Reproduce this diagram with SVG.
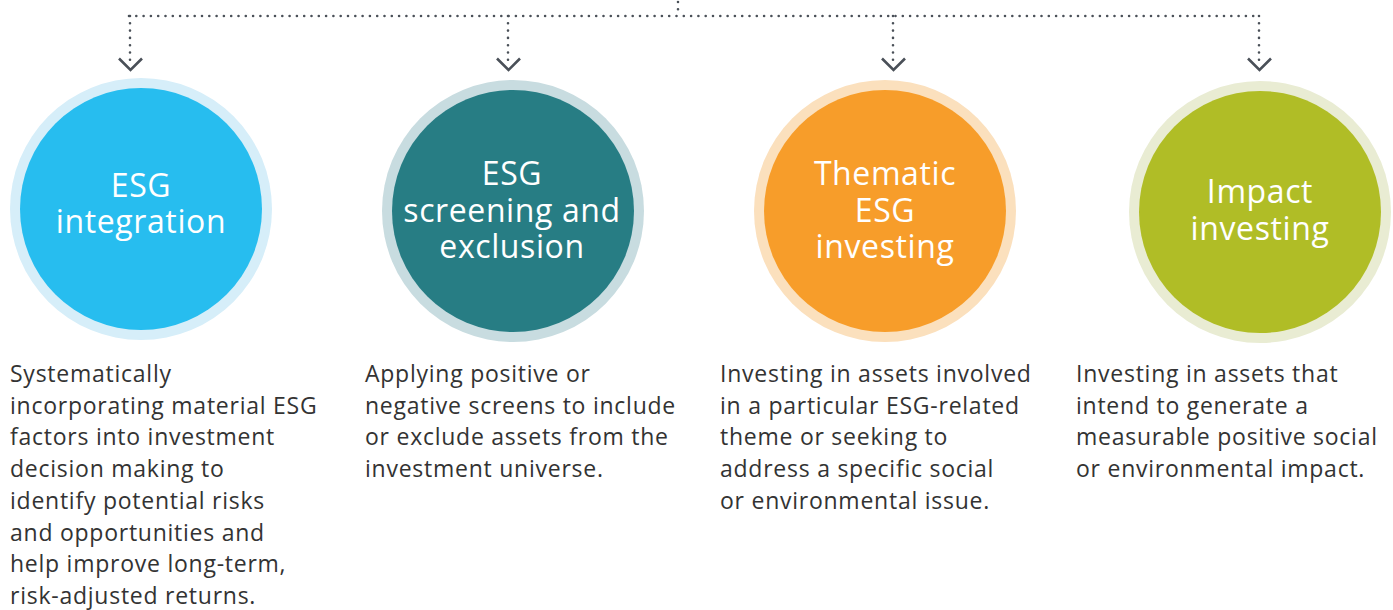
<svg xmlns="http://www.w3.org/2000/svg" width="1393" height="610" viewBox="0 0 1393 610">
<style>
.dot{fill:none;stroke:#4a5058;stroke-width:2.6;stroke-linecap:round;stroke-dasharray:0 7.3}
.chev{fill:none;stroke:#4a5058;stroke-width:2.6;stroke-linecap:butt;stroke-linejoin:miter}
.title{font-family:"Open Sans","Noto Sans",sans-serif;font-size:32px;letter-spacing:0.6px;fill:#ffffff;text-anchor:middle}
.desc{font-family:"Open Sans","Noto Sans",sans-serif;font-size:23px;letter-spacing:0.75px;fill:#333333}
</style>
<rect width="1393" height="610" fill="#ffffff"/>
<g id="connectors">
<path class="dot" d="M678 2 V16"/>
<path class="dot" d="M129 16 H1259"/>
<path class="dot" d="M130 16 V64"/>
<path class="dot" d="M508 16 V64"/>
<path class="dot" d="M893 16 V64"/>
<path class="dot" d="M1259 16 V64"/>
<path class="chev" d="M119 58.5 L130.5 70 L142 58.5"/>
<path class="chev" d="M497 58.5 L508.5 70 L520 58.5"/>
<path class="chev" d="M882 58.5 L893.5 70 L905 58.5"/>
<path class="chev" d="M1248 58.5 L1259.5 70 L1271 58.5"/>
</g>
<g id="node-esg-integration">
<circle cx="141" cy="209" r="131" fill="#d6eef9"/>
<circle cx="141" cy="209" r="121" fill="#27bdef"/>
<text class="title" x="141" y="197">ESG</text>
<text class="title" x="141" y="233">integration</text>
<text class="desc" x="10" y="382">Systematically</text>
<text class="desc" x="10" y="413.7">incorporating material ESG</text>
<text class="desc" x="10" y="445.4">factors into investment</text>
<text class="desc" x="10" y="477.1">decision making to</text>
<text class="desc" x="10" y="508.8">identify potential risks</text>
<text class="desc" x="10" y="540.5">and opportunities and</text>
<text class="desc" x="10" y="572.2">help improve long-term,</text>
<text class="desc" x="10" y="603.9">risk-adjusted returns.</text>
</g>
<g id="node-esg-screening">
<circle cx="513" cy="211" r="131" fill="#c8dce0"/>
<circle cx="513" cy="211" r="121" fill="#277d84"/>
<text class="title" x="512" y="185">ESG</text>
<text class="title" x="512" y="221.5">screening and</text>
<text class="title" x="512" y="258">exclusion</text>
<text class="desc" x="365" y="382">Applying positive or</text>
<text class="desc" x="365" y="413.7">negative screens to include</text>
<text class="desc" x="365" y="445.4">or exclude assets from the</text>
<text class="desc" x="365" y="477.1">investment universe.</text>
</g>
<g id="node-thematic">
<circle cx="885" cy="211" r="131" fill="#fbe0bd"/>
<circle cx="885" cy="211" r="121" fill="#f79d2a"/>
<text class="title" x="885" y="185">Thematic</text>
<text class="title" x="885" y="221.5">ESG</text>
<text class="title" x="885" y="258">investing</text>
<text class="desc" x="720" y="382">Investing in assets involved</text>
<text class="desc" x="720" y="413.7">in a particular ESG-related</text>
<text class="desc" x="720" y="445.4">theme or seeking to</text>
<text class="desc" x="720" y="477.1">address a specific social</text>
<text class="desc" x="720" y="508.8">or environmental issue.</text>
</g>
<g id="node-impact">
<circle cx="1260" cy="212" r="131" fill="#e9ecd3"/>
<circle cx="1260" cy="212" r="121" fill="#b0bd26"/>
<text class="title" x="1260" y="203">Impact</text>
<text class="title" x="1260" y="240">investing</text>
<text class="desc" x="1076" y="382">Investing in assets that</text>
<text class="desc" x="1076" y="413.7">intend to generate a</text>
<text class="desc" x="1076" y="445.4">measurable positive social</text>
<text class="desc" x="1076" y="477.1">or environmental impact.</text>
</g>
</svg>
